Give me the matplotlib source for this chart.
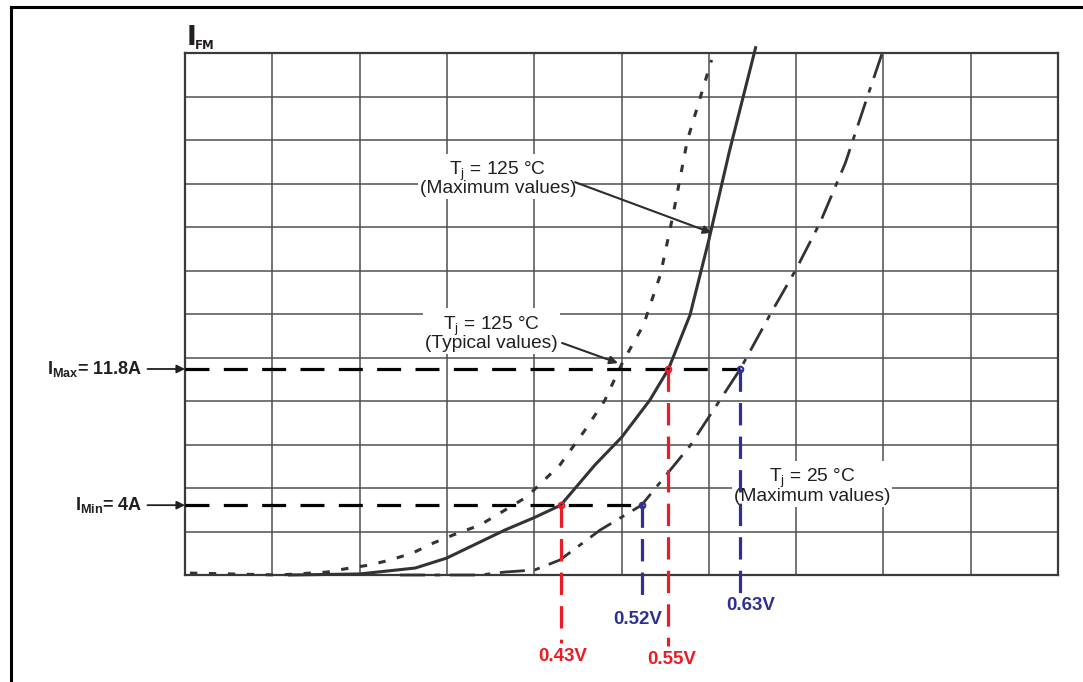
import numpy as np
import matplotlib
matplotlib.use("Agg")
import matplotlib.pyplot as plt
from matplotlib.lines import Line2D

plt.rcParams['font.family'] = ['Liberation Sans', 'DejaVu Sans']
plt.rcParams['mathtext.fontset'] = 'custom'
plt.rcParams['mathtext.rm'] = 'Liberation Sans'
plt.rcParams['mathtext.it'] = 'Liberation Sans:italic'
plt.rcParams['mathtext.bf'] = 'Liberation Sans:bold'

# ---- data (V in volts, I in amps) ----
v_max125 = [0.128, 0.206, 0.268, 0.303, 0.368, 0.401, 0.43, 0.468, 0.498, 0.529, 0.55, 0.574, 0.595, 0.618, 0.647]
i_max125 = [0.0, 0.06, 0.40, 0.97, 2.58, 3.3, 4.0, 6.3, 7.9, 10.0, 11.8, 14.9, 19.2, 24.3, 30.2]

v_typ125 = [0.017, 0.117, 0.170, 0.195, 0.217, 0.240, 0.265, 0.288, 0.310, 0.340, 0.368, 0.392, 0.429, 0.457, 0.479, 0.499, 0.522, 0.541, 0.555, 0.571, 0.598]
i_typ125 = [0.11, 0.0, 0.17, 0.40, 0.57, 0.86, 1.26, 1.83, 2.29, 2.86, 3.72, 4.47, 6.3, 8.3, 10.0, 12.2, 14.3, 17.2, 20.6, 24.9, 29.5]

v_max25 = [0.251, 0.340, 0.368, 0.401, 0.429, 0.474, 0.52, 0.574, 0.63, 0.663, 0.692, 0.719, 0.747, 0.769, 0.790]
i_max25 = [0.0, 0.0, 0.17, 0.29, 0.86, 2.58, 4.0, 7.4, 11.8, 14.9, 17.5, 20.2, 23.6, 27.0, 30.2]

i_levels = [11.8, 4.0]
level_labels = [r"$\mathbf{I_{Max}}$= 11.8A", r"$\mathbf{I_{Min}}$= 4A"]
v_marks = [0.43, 0.55, 0.52, 0.63]
v_mark_levels = [4.0, 11.8, 4.0, 11.8]
v_mark_labels = ["0.43V", "0.55V", "0.52V", "0.63V"]

RED = "#ed1c24"
BLUE = "#2e3192"
DARK = "#333333"
GRID = "#505050"

W, H = 1083, 682
fig = plt.figure(figsize=(W / 100, H / 100), dpi=100)
L, R, T, B = 185, 1058, 53, 575
ax = fig.add_axes([L / W, 1 - B / H, (R - L) / W, (B - T) / H])

xlim = ((L - 174.7) / 897.8, (R - 174.7) / 897.8)
ylim = (0.0, 29.9)
ax.set_xlim(*xlim)
ax.set_ylim(*ylim)
ax.set_xticks(np.linspace(xlim[0], xlim[1], 11))
ax.set_yticks(np.linspace(ylim[0], ylim[1], 13))
ax.set_xticklabels([])
ax.set_yticklabels([])
ax.tick_params(length=0)
ax.grid(True, color=GRID, lw=1.1, zorder=0)
ax.set_axisbelow(True)
for s in ax.spines.values():
    s.set_color("#3a3a3a")
    s.set_linewidth(1.6)

# curves
ax.plot(v_max125, i_max125, color=DARK, lw=2.2, clip_on=False, zorder=3)
ax.plot(v_typ125, i_typ125, color=DARK, lw=2.2, dashes=(2.4, 3.8), clip_on=False, zorder=3)
ax.plot(v_max25, i_max25, color=DARK, lw=2.0, dashes=(9, 3.5, 2, 3.5), clip_on=False, zorder=3)

# horizontal I levels
v_ends = [0.63, 0.52]
for lev, ve, lab in zip(i_levels, v_ends, level_labels):
    ax.plot([xlim[0], ve], [lev, lev], color="black", lw=2.3, dashes=(7.5, 4.5), zorder=4, clip_on=False)
    ax.annotate(lab, xy=(0, lev), xycoords=ax.get_yaxis_transform(),
                xytext=(-31, 0), textcoords="offset points",
                ha="right", va="center", fontsize=13, fontweight="bold", color="#231f20",
                arrowprops=dict(arrowstyle="-|>", color="#231f20", lw=1.3,
                                mutation_scale=12, shrinkA=2, shrinkB=0))

# vertical voltage marks
xt = ax.get_xaxis_transform()
bottoms = [-0.130, -0.136, -0.058, -0.034]
label_y = [-0.157, -0.161, -0.086, -0.059]
label_dx = [0.002, 0.004, -0.004, 0.011]
colors = [RED, RED, BLUE, BLUE]
for v, lev, lab, bt, ly, dx, c in zip(v_marks, v_mark_levels, v_mark_labels, bottoms, label_y, label_dx, colors):
    top_frac = (lev - ylim[0]) / (ylim[1] - ylim[0])
    ax.plot([v, v], [top_frac, bt], transform=xt, color=c, lw=2.3, dashes=(7, 3.5),
            clip_on=False, zorder=5)
    ax.plot([v], [top_frac], transform=xt, marker="o", ms=4, color=c, mfc="none", mew=1.5,
            clip_on=False, zorder=6)
    ax.text(v + dx, ly, lab, transform=xt, ha="center", va="center", fontsize=13.5,
            fontweight="bold", color=c)

# annotations
box = dict(facecolor="white", edgecolor="none", pad=1.5)
kw = dict(ha="center", va="center", fontsize=13.8, linespacing=0.78, color="#231f20",
          bbox=box, zorder=2)
ax.text(0.360, 22.7, "T$_{\\rm j}$ = 125 °C\n(Maximum values)", **kw)
ax.text(0.353, 13.86, "T$_{\\rm j}$ = 125 °C\n(Typical values)", **kw)
ax.text(0.710, 5.10, "T$_{\\rm j}$ = 25 °C\n(Maximum values)", **kw)
ax.annotate("", xy=(0.598, 19.6), xytext=(0.446, 22.5),
            arrowprops=dict(arrowstyle="-|>", color="#2d2d2d", lw=1.5, mutation_scale=12,
                            shrinkA=0, shrinkB=0), zorder=6)
ax.annotate("", xy=(0.4937, 12.14), xytext=(0.4315, 13.29),
            arrowprops=dict(arrowstyle="-|>", color="#2d2d2d", lw=1.5, mutation_scale=12,
                            shrinkA=0, shrinkB=0), zorder=6)

# y-axis name
fig.text(187 / W, 1 - 45 / H, "I", fontsize=19, fontweight="bold", color="#231f20",
         ha="left", va="baseline", family="Liberation Sans Narrow")
fig.text(195 / W, 1 - 49 / H, "FM", fontsize=8.5, fontweight="bold", color="#231f20",
         ha="left", va="baseline", family="Liberation Sans Narrow")

# outer frame (left and top edges)
fig.add_artist(Line2D([11 / W, 11 / W], [0, 1 - 7 / H], color="black", lw=2.2))
fig.add_artist(Line2D([11 / W, 1.0], [1 - 7 / H, 1 - 7 / H], color="black", lw=2.2))

fig.savefig("out.png", dpi=100)
